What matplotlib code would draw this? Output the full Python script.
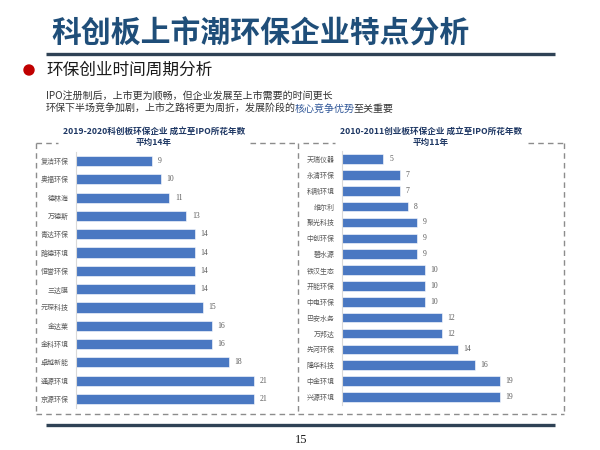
import matplotlib
matplotlib.use('Agg')
import matplotlib.pyplot as plt
from matplotlib.lines import Line2D
from matplotlib.patches import Ellipse

plt.rcParams['font.family'] = ['Noto Sans CJK SC', 'DejaVu Sans']

# data
left_names = ['复洁环保', '奥福环保', '德林海', '万德斯', '青达环保', '路德环境', '恒誉环保',
              '三达膜', '元琛科技', '金达莱', '金科环境', '卓越新能', '通源环境', '京源环保']
left_years = [9, 10, 11, 13, 14, 14, 14, 14, 15, 16, 16, 18, 21, 21]

right_names = ['天瑞仪器', '永清环保', '科融环境', '维尔利', '聚光科技', '中创环保', '碧水源', '铁汉生态',
               '开能环保', '中电环保', '巴安水务', '万邦达', '先河环保', '隆华科技', '中金环境', '兴源环境']
right_years = [5, 7, 7, 8, 9, 9, 9, 10, 10, 10, 12, 12, 14, 16, 19, 19]

left_title = ['2019-2020科创板环保企业 成立至IPO所花年数', '平均14年']
right_title = ['2010-2011创业板环保企业 成立至IPO所花年数', '平均11年']

bar_color = '#4a78c2'
W, H = 600, 450


def fx(x):
    return x / W


def fy(y):
    return 1 - y / H


fig = plt.figure(figsize=(6, 4.5), dpi=100)
fig.patch.set_facecolor('white')


def hline(x0, x1, y, **kw):
    fig.add_artist(Line2D([fx(x0), fx(x1)], [fy(y), fy(y)], transform=fig.transFigure, **kw))


def vline(x, y0, y1, **kw):
    fig.add_artist(Line2D([fx(x), fx(x)], [fy(y0), fy(y1)], transform=fig.transFigure, **kw))


def add_chart(names, values, x0, x1, ytop, ybot, bar_h):
    ax = fig.add_axes([fx(x0), fy(ybot), (x1 - x0) / W, (ybot - ytop) / H])
    y = list(range(len(names)))
    ax.barh(y, values, height=bar_h, color=bar_color, edgecolor='white', linewidth=0.4)
    ax.set_xlim(0, 25)
    ax.set_ylim(len(names) - 0.5, -0.5)
    ax.set_yticks(y)
    ax.set_yticklabels(names, fontsize=5, color='#595959')
    ax.tick_params(axis='y', length=0, pad=5.5)
    ax.set_xticks([])
    for s in ['top', 'right', 'bottom']:
        ax.spines[s].set_visible(False)
    ax.spines['left'].set_color('#d9d9d9')
    ax.spines['left'].set_linewidth(0.8)
    ax.patch.set_alpha(0)
    for yi, v in zip(y, values):
        ax.annotate(str(v), (v, yi), xytext=(4, 0), textcoords='offset points',
                    va='center', ha='left', fontsize=5.5, color='#595959',
                    family='Liberation Serif')
    return ax


# header
fig.text(fx(51), fy(34), '科创板上市潮环保企业特点分析', fontsize=21.5, fontweight='bold',
         color='#1f4e79', va='center', ha='left')
hline(46, 555, 54, color='#2f4255', lw=2.4, solid_capstyle='butt')
fig.add_artist(Ellipse((fx(29), fy(70)), 10 / W, 10 / H, transform=fig.transFigure, color='#c00000'))
fig.text(fx(46), fy(70), '环保创业时间周期分析', fontsize=12, color='#1a1a1a', va='center', ha='left')

# description lines
fig.text(fx(46), fy(97), 'IPO注册制后，上市更为顺畅，但企业发展至上市需要的时间更长',
         fontsize=7.2, color='#333333', va='center', ha='left')
parts = [('环保下半场竞争加剧，上市之路将更为周折，发展阶段的', '#333333'),
         ('核心竞争优势', '#2e5597'), ('至关重要', '#333333')]
renderer = fig.canvas.get_renderer()
xpos = fx(46)
for txt, col in parts:
    t = fig.text(xpos, fy(109), txt, fontsize=7.2, color=col, va='center', ha='left')
    bb = t.get_window_extent(renderer)
    xpos = fig.transFigure.inverted().transform((bb.x1 - 1.5, bb.y0))[0]

# panel titles
for lines, cx in [(left_title, 154), (right_title, 431)]:
    fig.text(fx(cx), fy(131), lines[0], fontsize=6.2, fontweight='bold', color='#1f3864',
             va='center', ha='center')
    fig.text(fx(cx), fy(142), lines[1], fontsize=6.2, fontweight='bold', color='#1f3864',
             va='center', ha='center')

# dashed boxes
dash = dict(color='#8c8c8c', lw=1.0, ls=(0, (4, 3)))
hline(36, 58, 143, **dash)
hline(250, 298, 143, **dash)
vline(36, 143, 414, **dash)
hline(36, 298, 414, **dash)
vline(298, 143, 414, **dash)
hline(303, 335, 143, **dash)
hline(528, 564, 143, **dash)
hline(298, 564, 414, **dash)
vline(564, 143, 414, **dash)

# charts
add_chart(left_names, left_years, 76, 76 + 25 * 8.48, 151.9, 408.1, 0.56)
add_chart(right_names, right_years, 342, 342 + 25 * 8.3, 151.1, 404.9, 0.6)

# footer
hline(46, 555, 425, color='#2f4255', lw=2.4, solid_capstyle='butt')
fig.text(fx(301), fy(440), '15', fontsize=9, color='#1a1a1a', va='center', ha='center',
         family='Liberation Serif')

fig.savefig('out.png', dpi=100, facecolor='white')
